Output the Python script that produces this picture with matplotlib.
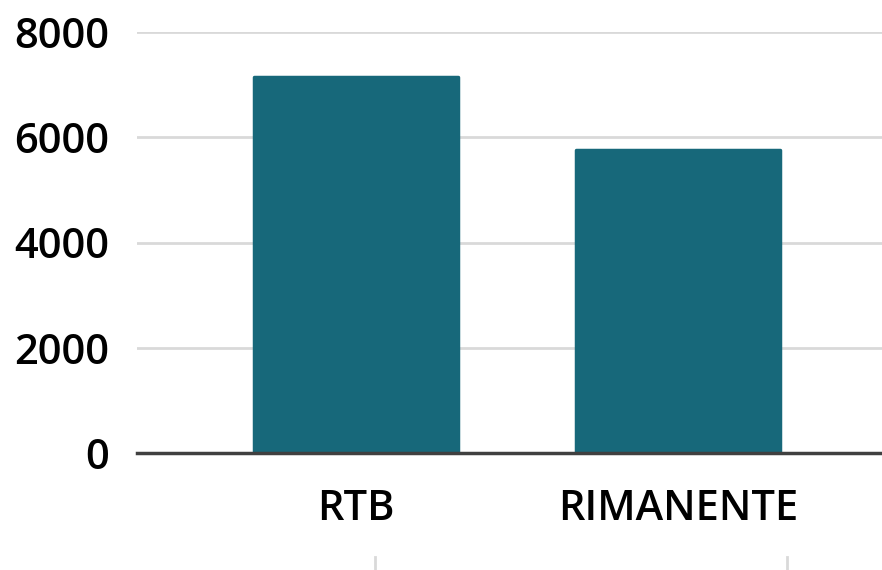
import matplotlib.pyplot as plt
from matplotlib.lines import Line2D

categories = ["RTB", "RIMANENTE"]
values = [7150, 5760]
y_ticks = [0, 2000, 4000, 6000, 8000]

bar_color = "#17687A"

plt.rcParams["font.family"] = ["Open Sans", "DejaVu Sans"]

fig = plt.figure(figsize=(8.82, 5.70), dpi=100)
ax = fig.add_axes([137 / 882, 1 - 453 / 570, 1 - 137 / 882, (453 - 32) / 570])

x = range(len(categories))
# rounded joins give the bars their soft corners
ax.bar(x, values, width=0.635, color=bar_color, edgecolor=bar_color,
       linewidth=2.5, joinstyle="round", zorder=3)

ax.set_xlim(-0.68, 1.634)
ax.set_ylim(0, 8000)
ax.set_yticks(y_ticks)
ax.set_xticks(list(x))
ax.set_xticklabels(categories)

ax.yaxis.grid(True, color="#D9D9D9", linewidth=2, zorder=0)
ax.set_axisbelow(True)
for side in ["top", "right", "left"]:
    ax.spines[side].set_visible(False)
ax.spines["bottom"].set_color("#404040")
ax.spines["bottom"].set_linewidth(2.5)
ax.spines["bottom"].set_zorder(4)

ax.tick_params(axis="both", length=0, labelsize=30, colors="black")
ax.tick_params(axis="y", pad=20)
ax.tick_params(axis="x", pad=25)
for lbl in ax.get_xticklabels() + ax.get_yticklabels():
    lbl.set_fontweight(600)

# faint separator marks along the bottom edge
for xf in [375 / 882, 787 / 882]:
    fig.add_artist(Line2D([xf, xf], [0, 13 / 570], transform=fig.transFigure,
                          color="#D9D9D9", linewidth=2))

fig.savefig("out.png", dpi=100)
